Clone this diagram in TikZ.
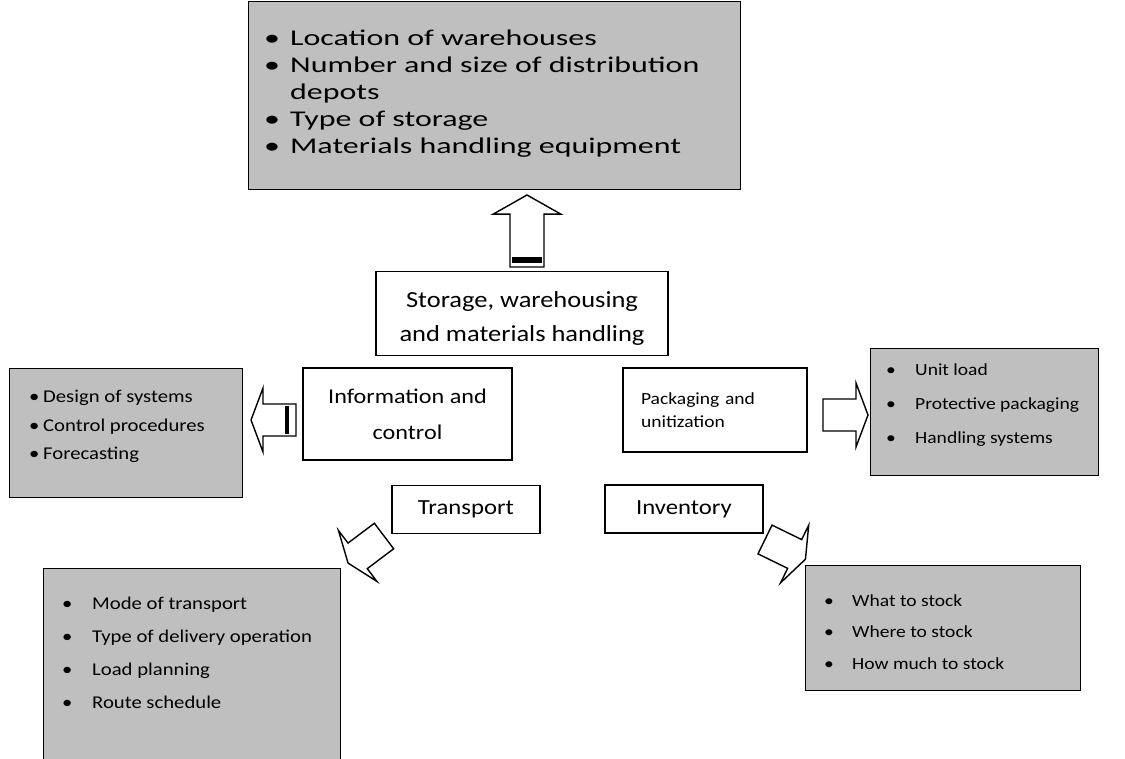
\documentclass[tikz,border=0pt]{standalone}
\usepackage{fontspec}
\setmainfont[FakeStretch=1.15]{Carlito}
\newfontfamily\rong[FakeStretch=1.42]{Carlito}
\definecolor{nenxam}{HTML}{BFBFBF}
\newcommand{\cham}[1]{\makebox[#1][l]{\textbullet}}
\tikzset{
	hop/.style={draw,line width=1.4pt,fill=white,inner sep=0pt,align=center},
	hopxam/.style={draw,line width=1.4pt,fill=nenxam,inner sep=0pt,anchor=north west},
	ds/.style={anchor=base west,inner sep=0pt},
	muiten/.style={draw,line width=1.4pt,fill=white,line join=miter}
}
\begin{document}
\begin{tikzpicture}[x=1pt,y=-1pt]
	\useasboundingbox (0,0) rectangle (1125,759);
	%Mũi tên khối
	\def\MT{ (0,-16)--(33,-16)--(33,-32)--(45,0)--(33,32)--(33,16)--(0,16)--cycle;}
	%Kho bãi
	\node[hopxam,minimum width=492,minimum height=188] (kho) at (248,1) {};
	\node[ds,font=\rong\fontsize{22.5}{27}\selectfont] (kho-ds) at (264,45.5) {\begin{tabular}[t]{@{}l@{}l@{}}
		\cham{26pt}&Location of warehouses\\
		\cham{26pt}&Number and size of distribution\\
		&depots\\
		\cham{26pt}&Type of storage\\
		\cham{26pt}&Materials handling equipment
	\end{tabular}};
	%Thông tin
	\node[hopxam,minimum width=233,minimum height=129] (tt) at (9,368) {};
	\node[ds,font=\fontsize{18}{28.5}\selectfont] (tt-ds) at (29,402.5) {\begin{tabular}[t]{@{}l@{}l@{}}
		\cham{14pt}&Design of systems\\
		\cham{14pt}&Control procedures\\
		\cham{14pt}&Forecasting
	\end{tabular}};
	%Đóng gói
	\node[hopxam,minimum width=228,minimum height=127] (dg) at (870,348) {};
	\node[ds,font=\fontsize{17}{34}\selectfont] (dg-ds) at (886,376) {\begin{tabular}[t]{@{}l@{}l@{}}
		\cham{29pt}&Unit load\\
		\cham{29pt}&Protective packaging\\
		\cham{29pt}&Handling systems
	\end{tabular}};
	%Vận tải
	\node[hopxam,minimum width=297,minimum height=212] (vt) at (43,568) {};
	\node[ds,font=\fontsize{18}{33}\selectfont] (vt-ds) at (62,609.5) {\begin{tabular}[t]{@{}l@{}l@{}}
		\cham{30pt}&Mode of transport\\
		\cham{30pt}&Type of delivery operation\\
		\cham{30pt}&Load planning\\
		\cham{30pt}&Route schedule
	\end{tabular}};
	%Tồn kho
	\node[hopxam,minimum width=275,minimum height=125] (tk) at (805,565) {};
	\node[ds,font=\fontsize{17}{31.5}\selectfont] (tk-ds) at (824,606) {\begin{tabular}[t]{@{}l@{}l@{}}
		\cham{28pt}&What to stock\\
		\cham{28pt}&Where to stock\\
		\cham{28pt}&How much to stock
	\end{tabular}};
	%Các hộp trắng
	\node[hop,minimum width=292,minimum height=84,font=\fontsize{23}{34}\selectfont] (luukho) at (522,313.5) {\rule{0pt}{25pt}Storage, warehousing\\and materials handling};
	\node[hop,minimum width=209,minimum height=92,font=\fontsize{21}{36}\selectfont] (thongtin) at (407.5,414) {Information and\\control};
	\node[hop,minimum width=184,minimum height=84,text width=148,align=left,font=\fontsize{17}{23}\selectfont] (donggoi) at (715,410) {Packaging and\\unitization};
	\node[hop,minimum width=148,minimum height=48,font=\fontsize{21.5}{24}\selectfont] (vantai) at (466,509.5) {Transport};
	\node[hop,minimum width=158,minimum height=48,font=\fontsize{21.5}{24}\selectfont] (tonkho) at (684,509) {Inventory};
	%Mũi tên lên
	\draw[muiten,shift={(527,267)},rotate=90,xscale=1.6,yscale=1.06] \MT
	\fill[shift={(527,267)},rotate=90,xscale=1.6,yscale=1.06] (2.5,-14) rectangle (6,14);
	%Mũi tên trái
	\draw[muiten,shift={(296,420)},rotate=180] \MT
	\fill[shift={(296,420)},rotate=180] (7,-14) rectangle (11,14);
	%Mũi tên phải
	\draw[muiten,shift={(823,415)}] \MT
	%Mũi tên xuống
	\draw[muiten,shift={(384,536)},rotate=217] \MT
	\draw[muiten,shift={(765,539.5)},rotate=-26] \MT
\end{tikzpicture}
\end{document}
